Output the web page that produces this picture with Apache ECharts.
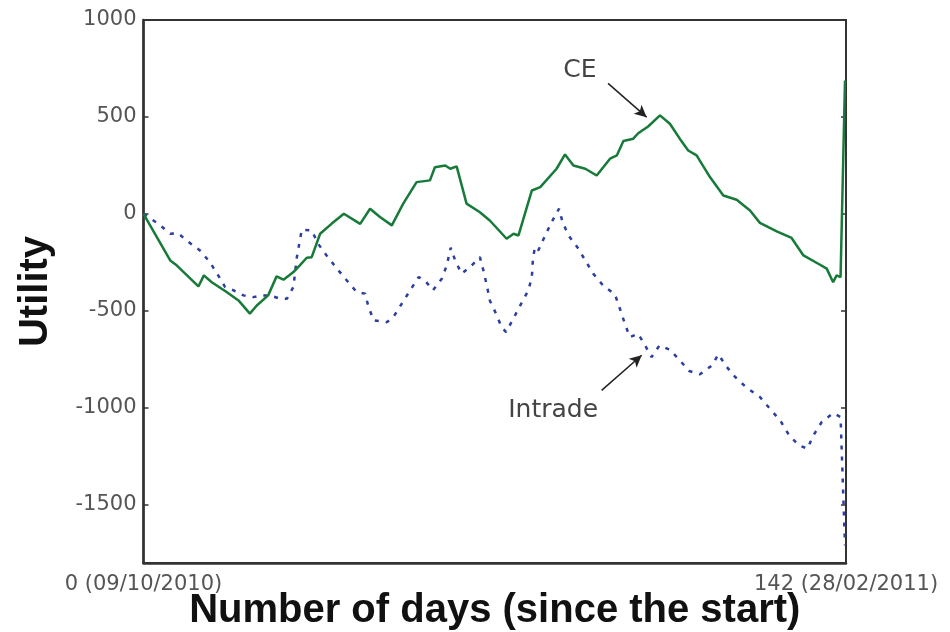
<!DOCTYPE html>
<html>
<head>
<meta charset="utf-8">
<script src="https://cdn.jsdelivr.net/npm/echarts@6/dist/echarts.min.js"></script>
<style>html,body{margin:0;padding:0;background:#fff;}#c{width:950px;height:632px;}</style>
</head>
<body>
<div id="c"></div>
<script>
// ---- data ----
const ceDays = [0,5.4,6.7,11.1,12.2,13.8,16.8,19.2,21.5,22.9,25.2,26.9,28.3,30.3,31.6,33.0,34.0,35.7,38.0,40.5,43.8,45.8,47.8,50.2,52.5,55.2,57.9,58.9,61.0,62.0,63.3,65.3,68.0,70.0,73.4,74.8,75.8,78.5,80.2,83.5,85.2,86.9,89.3,91.6,94.3,95.7,97.0,99.0,100.0,102.0,104.4,106.4,108.4,110.1,111.8,114.5,117.2,119.9,122.6,124.6,128.0,131.0,133.4,136.4,138.1,139.4,140.1,140.9,141.8];
const ceValues = [0,-240,-265,-374,-317,-352,-403,-446,-514,-472,-420,-322,-339,-300,-265,-226,-223,-102,-51,1,-51,27,-16,-59,53,164,173,241,250,233,245,53,9,-34,-128,-102,-111,121,138,233,307,250,233,198,285,302,376,388,416,451,508,465,388,327,302,190,95,73,18,-46,-90,-124,-214,-257,-282,-352,-317,-326,688];
const intradeDays = [0,3.0,5.4,7.0,8.7,11.4,13.4,15.1,16.5,18.2,20.2,22.2,24.2,25.6,27.6,29.0,30.3,31.0,32.0,34.0,35.3,37.0,39.1,41.1,43.1,44.8,45.4,46.5,49.2,50.5,52.2,53.9,55.6,56.9,58.5,60.3,61.3,62.1,63.0,64.3,66.0,68.0,68.7,69.4,70.0,71.1,72.4,73.3,75.1,76.5,77.8,78.5,78.7,79.1,79.8,81.2,82.5,84.0,84.7,85.9,87.9,89.3,90.9,92.9,95.3,96.3,97.3,98.3,100.0,101.4,102.7,104.3,106.4,108.4,110.3,112.5,114.9,116.2,117.8,119.6,121.9,124.6,126.6,128.7,130.3,132.4,134.2,135.4,137.1,139.4,140.9,141.8];
const intradeValues = [0,-51,-102,-99,-137,-188,-248,-317,-377,-394,-420,-429,-420,-420,-437,-437,-377,-223,-81,-85,-154,-214,-282,-343,-403,-411,-472,-549,-558,-532,-463,-394,-326,-343,-394,-334,-265,-174,-240,-308,-274,-223,-291,-369,-446,-506,-584,-609,-523,-455,-394,-326,-240,-171,-188,-111,-42,27,-42,-111,-179,-240,-308,-369,-415,-489,-566,-635,-618,-678,-738,-678,-700,-755,-810,-827,-781,-724,-786,-841,-896,-944,-1004,-1065,-1133,-1193,-1210,-1142,-1073,-1027,-1047,-1709];
const yTickValues = [-1500,-1000,-500,0,500,1000];
const xTickValues = [0,142];
const xTickLabels = ['0 (09/10/2010)','142 (28/02/2011)'];
const seriesNames = ['CE','Intrade'];
// annotation anchors (data space)
const ceLabelAt = [88.2, 740];
const ceArrow = [[93.9, 673],[101.7, 499]];
const intradeLabelAt = [82.8, -1013];
const intradeArrow = [[92.6, -910],[100.7, -729]];

const pair = (xs, ys) => xs.map((x, i) => [x, ys[i]]);

const chart = echarts.init(document.getElementById('c'), null, {renderer: 'canvas'});
const tickFont = {fontFamily: 'DejaVu Sans', fontSize: 21, color: '#555'};
const annotate = (pos, arrow, text) => ({
  markPoint: {
    symbol: 'circle', symbolSize: 0, silent: true,
    label: {show: true, position: 'inside', formatter: text, fontFamily: 'DejaVu Sans', fontSize: 25, color: '#444'},
    data: [{coord: pos}]
  },
  markLine: {
    silent: true, symbol: ['none', 'arrow'], symbolSize: [9, 12],
    label: {show: false},
    lineStyle: {color: '#222', width: 1.5, type: 'solid'},
    data: [[{coord: arrow[0]}, {coord: arrow[1]}]]
  }
});
const tickStyle = {show: true, inside: true, length: 5, customValues: yTickValues, lineStyle: {color: '#333', width: 1.5}};

chart.setOption({
  animation: false,
  grid: {left: 143.5, right: 104, top: 20, bottom: 69, show: true, borderColor: '#333', borderWidth: 2, backgroundColor: '#fff', containLabel: false, outerBoundsMode: 'none'},
  xAxis: {
    type: 'value', min: 0, max: 142,
    name: 'Number of days (since the start)', nameLocation: 'middle', nameGap: 28, nameMoveOverlap: false,
    nameTextStyle: {fontFamily: 'Liberation Sans', fontWeight: 'bold', fontSize: 40, color: '#111'},
    axisLine: {show: true, onZero: false, lineStyle: {color: '#333', width: 2.5}},
    axisTick: {show: false},
    splitLine: {show: false},
    axisLabel: {
      show: true, margin: 11, showMinLabel: true, showMaxLabel: true, ...tickFont,
      customValues: xTickValues,
      formatter: v => { const i = xTickValues.indexOf(v); return i >= 0 ? xTickLabels[i] : ''; }
    }
  },
  yAxis: [{
    type: 'value', min: -1800, max: 1000, position: 'left',
    name: 'Utility', nameLocation: 'middle', nameGap: 88, nameMoveOverlap: false,
    nameTextStyle: {fontFamily: 'Liberation Sans', fontWeight: 'bold', fontSize: 40, color: '#111'},
    axisLine: {show: true, onZero: false, lineStyle: {color: '#333', width: 2.5}},
    axisTick: tickStyle,
    splitLine: {show: false},
    axisLabel: {show: true, margin: 7, customValues: yTickValues, formatter: v => String(v), ...tickFont}
  }, {
    type: 'value', min: -1800, max: 1000, position: 'right',
    axisLine: {show: false, onZero: false},
    axisTick: tickStyle,
    splitLine: {show: false},
    axisLabel: {show: false}
  }],
  series: [{
    name: seriesNames[0], type: 'line', showSymbol: false, yAxisIndex: 0,
    data: pair(ceDays, ceValues),
    lineStyle: {color: '#177a38', width: 2.5},
    itemStyle: {color: '#177a38'},
    z: 3,
    ...annotate(ceLabelAt, ceArrow, seriesNames[0])
  }, {
    name: seriesNames[1], type: 'line', showSymbol: false, yAxisIndex: 0,
    data: pair(intradeDays, intradeValues),
    lineStyle: {color: '#2a3f9e', width: 2.5, type: [4, 7]},
    itemStyle: {color: '#2a3f9e'},
    z: 2,
    ...annotate(intradeLabelAt, intradeArrow, seriesNames[1])
  }]
});
</script>
</body>
</html>
